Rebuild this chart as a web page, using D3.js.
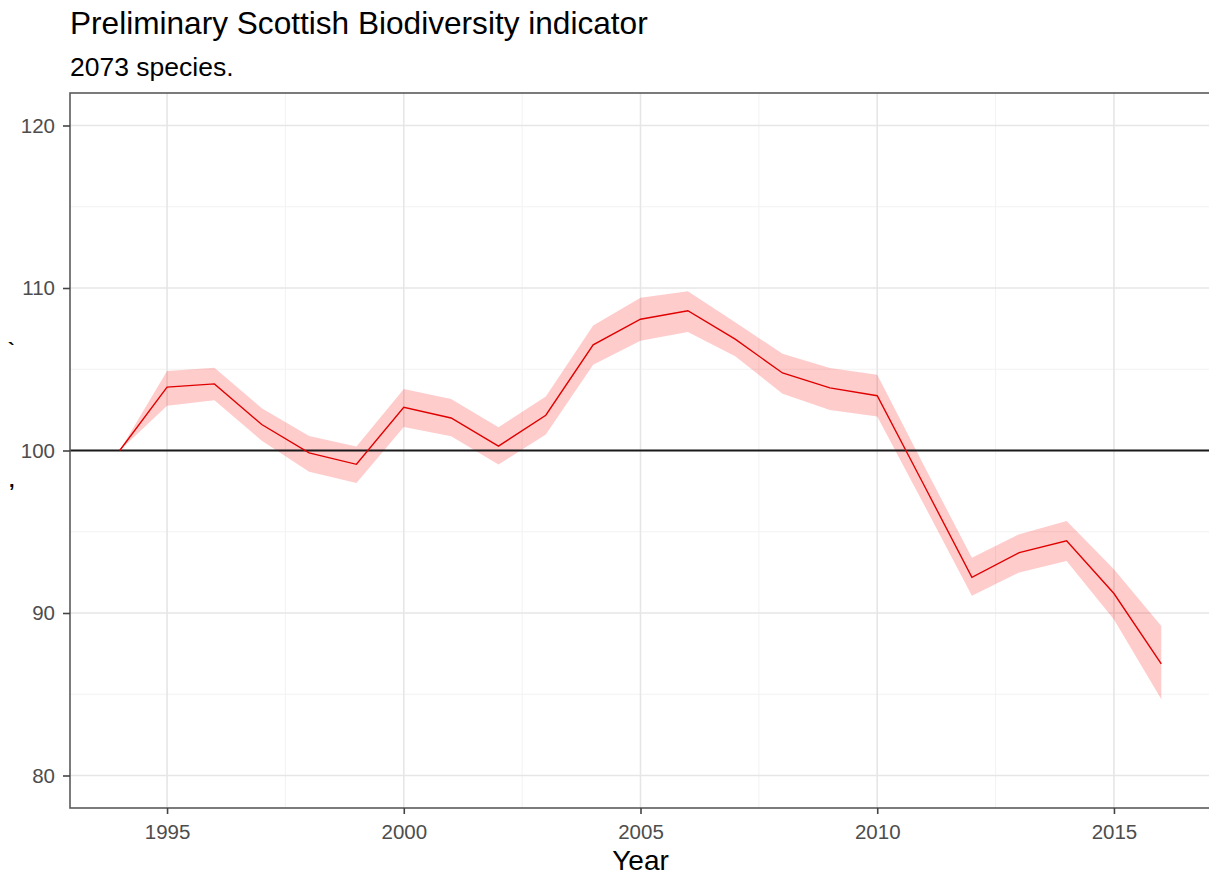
<!DOCTYPE html>
<html>
<head>
<meta charset="utf-8">
<script src="https://cdn.jsdelivr.net/npm/d3@7"></script>
<style>
  html, body { margin: 0; padding: 0; background: #fff; }
  svg { display: block; font-family: "Liberation Sans", Arial, sans-serif; }
</style>
</head>
<body>
<svg id="chart" width="1209" height="875"></svg>
<script>
// Indicator values by year, with the lower and upper bounds of the uncertainty band
const years = [1994, 1995, 1996, 1997, 1998, 1999, 2000, 2001, 2002, 2003, 2004, 2005,
               2006, 2007, 2008, 2009, 2010, 2011, 2012, 2013, 2014, 2015, 2016];
const indexValues = [100, 103.9, 104.1, 101.6, 99.85, 99.15, 102.66, 102.0, 100.27, 102.17, 106.5, 108.08,
                     108.6, 106.85, 104.77, 103.85, 103.37, 97.8, 92.19, 93.72, 94.44, 91.2, 86.87];
const lowerBound = [100, 102.75, 103.1, 100.6, 98.7, 98.0, 101.45, 100.88, 99.14, 100.98, 105.28, 106.75,
                    107.3, 105.8, 103.5, 102.5, 102.1, 96.6, 91.06, 92.5, 93.2, 89.6, 84.7];
const upperBound = [100, 104.9, 105.1, 102.6, 100.9, 100.25, 103.79, 103.17, 101.43, 103.33, 107.7, 109.4,
                    109.8, 107.9, 105.95, 105.07, 104.66, 99.0, 93.4, 94.85, 95.66, 92.7, 89.2];

const xTicks = [1995, 2000, 2005, 2010, 2015];
const xMinor = [1997.5, 2002.5, 2007.5, 2012.5];
const yTicks = [80, 90, 100, 110, 120];
const yMinor = [85, 95, 105, 115];
const baseline = 100;

const titleText = "Preliminary Scottish Biodiversity indicator";
const subtitleText = "2073 species.";
const xTitle = "Year";

const svg = d3.select("#chart");
const panel = { left: 70, top: 93, right: 1211, bottom: 808 };

const x = d3.scaleLinear().domain([1992.95, 2017.05]).range([panel.left, panel.right]);
const y = d3.scaleLinear().domain([78, 122]).range([panel.bottom, panel.top]);

const rows = years.map((yr, i) => ({ year: yr, v: indexValues[i], lo: lowerBound[i], hi: upperBound[i] }));

// Titles, aligned with the panel's left edge
svg.append("text").attr("x", panel.left).attr("y", 34)
  .attr("font-size", 31.6).attr("fill", "#000").text(titleText);
svg.append("text").attr("x", panel.left).attr("y", 76)
  .attr("font-size", 26.5).attr("fill", "#000").text(subtitleText);

svg.append("clipPath").attr("id", "panel-clip")
  .append("rect").attr("x", panel.left).attr("y", panel.top)
  .attr("width", panel.right - panel.left).attr("height", panel.bottom - panel.top);

const g = svg.append("g").attr("clip-path", "url(#panel-clip)");

// Minor gridlines
g.selectAll(".xminor").data(xMinor).join("line")
  .attr("x1", d => x(d)).attr("x2", d => x(d))
  .attr("y1", panel.top).attr("y2", panel.bottom)
  .attr("stroke", "#F2F2F2").attr("stroke-width", 1);
g.selectAll(".yminor").data(yMinor).join("line")
  .attr("y1", d => y(d)).attr("y2", d => y(d))
  .attr("x1", panel.left).attr("x2", panel.right)
  .attr("stroke", "#F2F2F2").attr("stroke-width", 1);

// Major gridlines
g.selectAll(".xmajor").data(xTicks).join("line")
  .attr("x1", d => x(d)).attr("x2", d => x(d))
  .attr("y1", panel.top).attr("y2", panel.bottom)
  .attr("stroke", "#E6E6E6").attr("stroke-width", 1.6);
g.selectAll(".ymajor").data(yTicks).join("line")
  .attr("y1", d => y(d)).attr("y2", d => y(d))
  .attr("x1", panel.left).attr("x2", panel.right)
  .attr("stroke", "#E6E6E6").attr("stroke-width", 1.6);

// Uncertainty ribbon
const area = d3.area().x(d => x(d.year)).y0(d => y(d.lo)).y1(d => y(d.hi));
g.append("path").datum(rows).attr("d", area)
  .attr("fill", "#FF0000").attr("fill-opacity", 0.2);

// Reference line at the baseline value
g.append("line")
  .attr("x1", panel.left).attr("x2", panel.right)
  .attr("y1", y(baseline)).attr("y2", y(baseline))
  .attr("stroke", "#1a1a1a").attr("stroke-width", 1.8);

// Indicator trend line
const line = d3.line().x(d => x(d.year)).y(d => y(d.v));
g.append("path").datum(rows).attr("d", line)
  .attr("fill", "none").attr("stroke", "#E00000").attr("stroke-width", 1.4);

// Panel border
svg.append("rect").attr("x", panel.left).attr("y", panel.top)
  .attr("width", panel.right - panel.left).attr("height", panel.bottom - panel.top)
  .attr("fill", "none").attr("stroke", "#5a5a5a").attr("stroke-width", 1.6);

// Axes
const xAxis = svg.append("g").attr("transform", `translate(0,${panel.bottom})`)
  .call(d3.axisBottom(x).tickValues(xTicks).tickFormat(d3.format("d")).tickSize(6).tickPadding(10));
const yAxis = svg.append("g").attr("transform", `translate(${panel.left},0)`)
  .call(d3.axisLeft(y).tickValues(yTicks).tickFormat(d3.format("d")).tickSize(7).tickPadding(8));

[xAxis, yAxis].forEach(a => {
  a.select(".domain").remove();
  a.selectAll(".tick line").attr("stroke", "#444").attr("stroke-width", 1.6);
  a.selectAll(".tick text").attr("fill", "#4D4D4D").attr("font-size", 20.5)
    .attr("font-family", "'Liberation Sans', Arial, sans-serif");
});

// Axis titles (the y title shows only as two small quote marks)
svg.append("text").attr("x", (panel.left + panel.right) / 2).attr("y", 870)
  .attr("text-anchor", "middle").attr("font-size", 28).attr("fill", "#000").text(xTitle);
svg.append("text").attr("x", 8).attr("y", 357)
  .attr("font-size", 20).attr("font-weight", "bold").attr("fill", "#000").text("`");
svg.append("text").attr("x", 9).attr("y", 487)
  .attr("font-size", 20).attr("font-weight", "bold").attr("fill", "#000").text(",");
</script>
</body>
</html>
